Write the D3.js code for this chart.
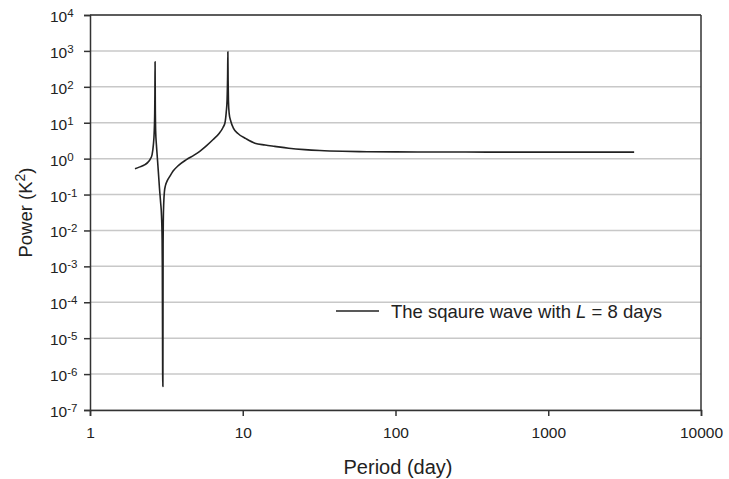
<!DOCTYPE html>
<html><head><meta charset="utf-8">
<script src="https://cdn.jsdelivr.net/npm/d3@7"></script>
<style>body{margin:0;background:#fff}svg{display:block}text{font-family:"Liberation Sans",Arial,sans-serif;fill:#222}</style>
</head><body><svg id="c" width="729" height="479"></svg>
<script>
const periods = [1.97, 2.1, 2.29, 2.4, 2.47, 2.55, 2.6, 2.63, 2.65, 2.66, 2.667, 2.675, 2.69, 2.72, 2.75, 2.8, 2.85, 2.9, 2.94, 2.965, 2.975, 2.98, 2.985, 2.99, 2.995, 3.0, 3.01, 3.02, 3.04, 3.07, 3.12, 3.2, 3.33, 3.5, 3.8, 4.28, 4.8, 5.23, 5.8, 6.4, 7.0, 7.44, 7.65, 7.8, 7.9, 7.96, 7.99, 8.02, 8.06, 8.15, 8.35, 8.7, 9.3, 10.5, 12, 14, 16.2, 20, 25.4, 32, 45, 65, 100, 200, 400, 1000, 2000, 3650];
const power   = [0.52, 0.58, 0.68, 0.8, 0.94, 1.3, 2.45, 5, 15, 60, 500, 40, 6, 2.5, 1.3, 0.45, 0.15, 0.06, 0.025, 0.006, 0.001, 1e-4, 1e-5, 1e-6, 4.5e-7, 4.5e-7, 0.004, 0.02, 0.06, 0.12, 0.18, 0.24, 0.32, 0.45, 0.65, 0.94, 1.25, 1.6, 2.3, 3.4, 5, 7.5, 10, 20, 45, 200, 950, 150, 40, 18, 11, 7, 5, 3.6, 2.7, 2.4, 2.2, 1.95, 1.78, 1.68, 1.6, 1.56, 1.54, 1.53, 1.52, 1.52, 1.52, 1.52];
const xTicks = [1, 10, 100, 1000, 10000];
const yExps = [-7, -6, -5, -4, -3, -2, -1, 0, 1, 2, 3, 4];
const legendText = ["The sqaure wave with ", "L", " = 8 days"];

const svg = d3.select("#c");
const L = 90, R = 701, T = 15, B = 410;
const x = d3.scaleLog().domain([1, 10000]).range([L, R]);
const y = d3.scaleLog().domain([1e-7, 1e4]).range([B, T]);
const FF = "Liberation Sans, Arial, sans-serif";

// gridlines
svg.append("g").selectAll("line").data(yExps).join("line")
  .attr("x1", L).attr("x2", R)
  .attr("y1", d => y(Math.pow(10, d))).attr("y2", d => y(Math.pow(10, d)))
  .attr("stroke", "#c8c8c8").attr("stroke-width", 1.5);

// frame top & right
svg.append("line").attr("x1", L).attr("x2", R).attr("y1", T).attr("y2", T).attr("stroke", "#333").attr("stroke-width", 1.5);
svg.append("line").attr("x1", R).attr("x2", R).attr("y1", T).attr("y2", B).attr("stroke", "#333").attr("stroke-width", 1.5);

// x axis
const xAxis = svg.append("g").attr("transform", `translate(0,${B})`)
  .call(d3.axisBottom(x).tickValues(xTicks).tickFormat(d3.format("d")).tickSize(6).tickPadding(11));
xAxis.select(".domain").attr("stroke", "#333").attr("stroke-width", 1.5);
xAxis.selectAll(".tick line").attr("stroke", "#333").attr("stroke-width", 1.5);
xAxis.selectAll("text").attr("font-size", 15.5).attr("font-family", FF).attr("fill", "#222");

// y axis
const yAxis = svg.append("g").attr("transform", `translate(${L},0)`)
  .call(d3.axisLeft(y).tickValues(yExps.map(e => Math.pow(10, e))).tickFormat("").tickSize(6));
yAxis.select(".domain").attr("stroke", "#333").attr("stroke-width", 1.5);
yAxis.selectAll(".tick line").attr("stroke", "#333").attr("stroke-width", 1.5);
yAxis.selectAll(".tick").each(function(d, i) {
  const t = d3.select(this).append("text").attr("x", -40).attr("dy", "0.42em")
    .attr("text-anchor", "start").attr("font-size", 15.5);
  t.append("tspan").text("10");
  t.append("tspan").attr("dy", -5).attr("font-size", 11.5).text(String(yExps[i]));
});
yAxis.selectAll("text").attr("font-family", FF).attr("fill", "#222");

// curve
const line = d3.line().x((d, i) => x(periods[i])).y((d, i) => y(power[i])).curve(d3.curveMonotoneX);
svg.append("path").datum(power).attr("d", line).attr("fill", "none")
  .attr("stroke", "#222").attr("stroke-width", 1.6).attr("stroke-linejoin", "round");

// legend
svg.append("line").attr("x1", 336).attr("x2", 379).attr("y1", 311).attr("y2", 311).attr("stroke", "#222").attr("stroke-width", 1.5);
const lt = svg.append("text").attr("x", 391).attr("y", 318).attr("font-size", 18.5);
lt.append("tspan").text(legendText[0]);
lt.append("tspan").attr("font-style", "italic").text(legendText[1]);
lt.append("tspan").text(legendText[2]);

// axis titles
svg.append("text").attr("x", 398).attr("y", 474).attr("text-anchor", "middle").attr("font-size", 20).text("Period (day)");
const yt = svg.append("text").attr("transform", `translate(32,${(T + B) / 2}) rotate(-90)`).attr("text-anchor", "middle").attr("font-size", 18.5);
yt.append("tspan").text("Power (K");
yt.append("tspan").attr("dy", -7).attr("font-size", 14).text("2");
yt.append("tspan").attr("dy", 7).text(")");
</script></body></html>
